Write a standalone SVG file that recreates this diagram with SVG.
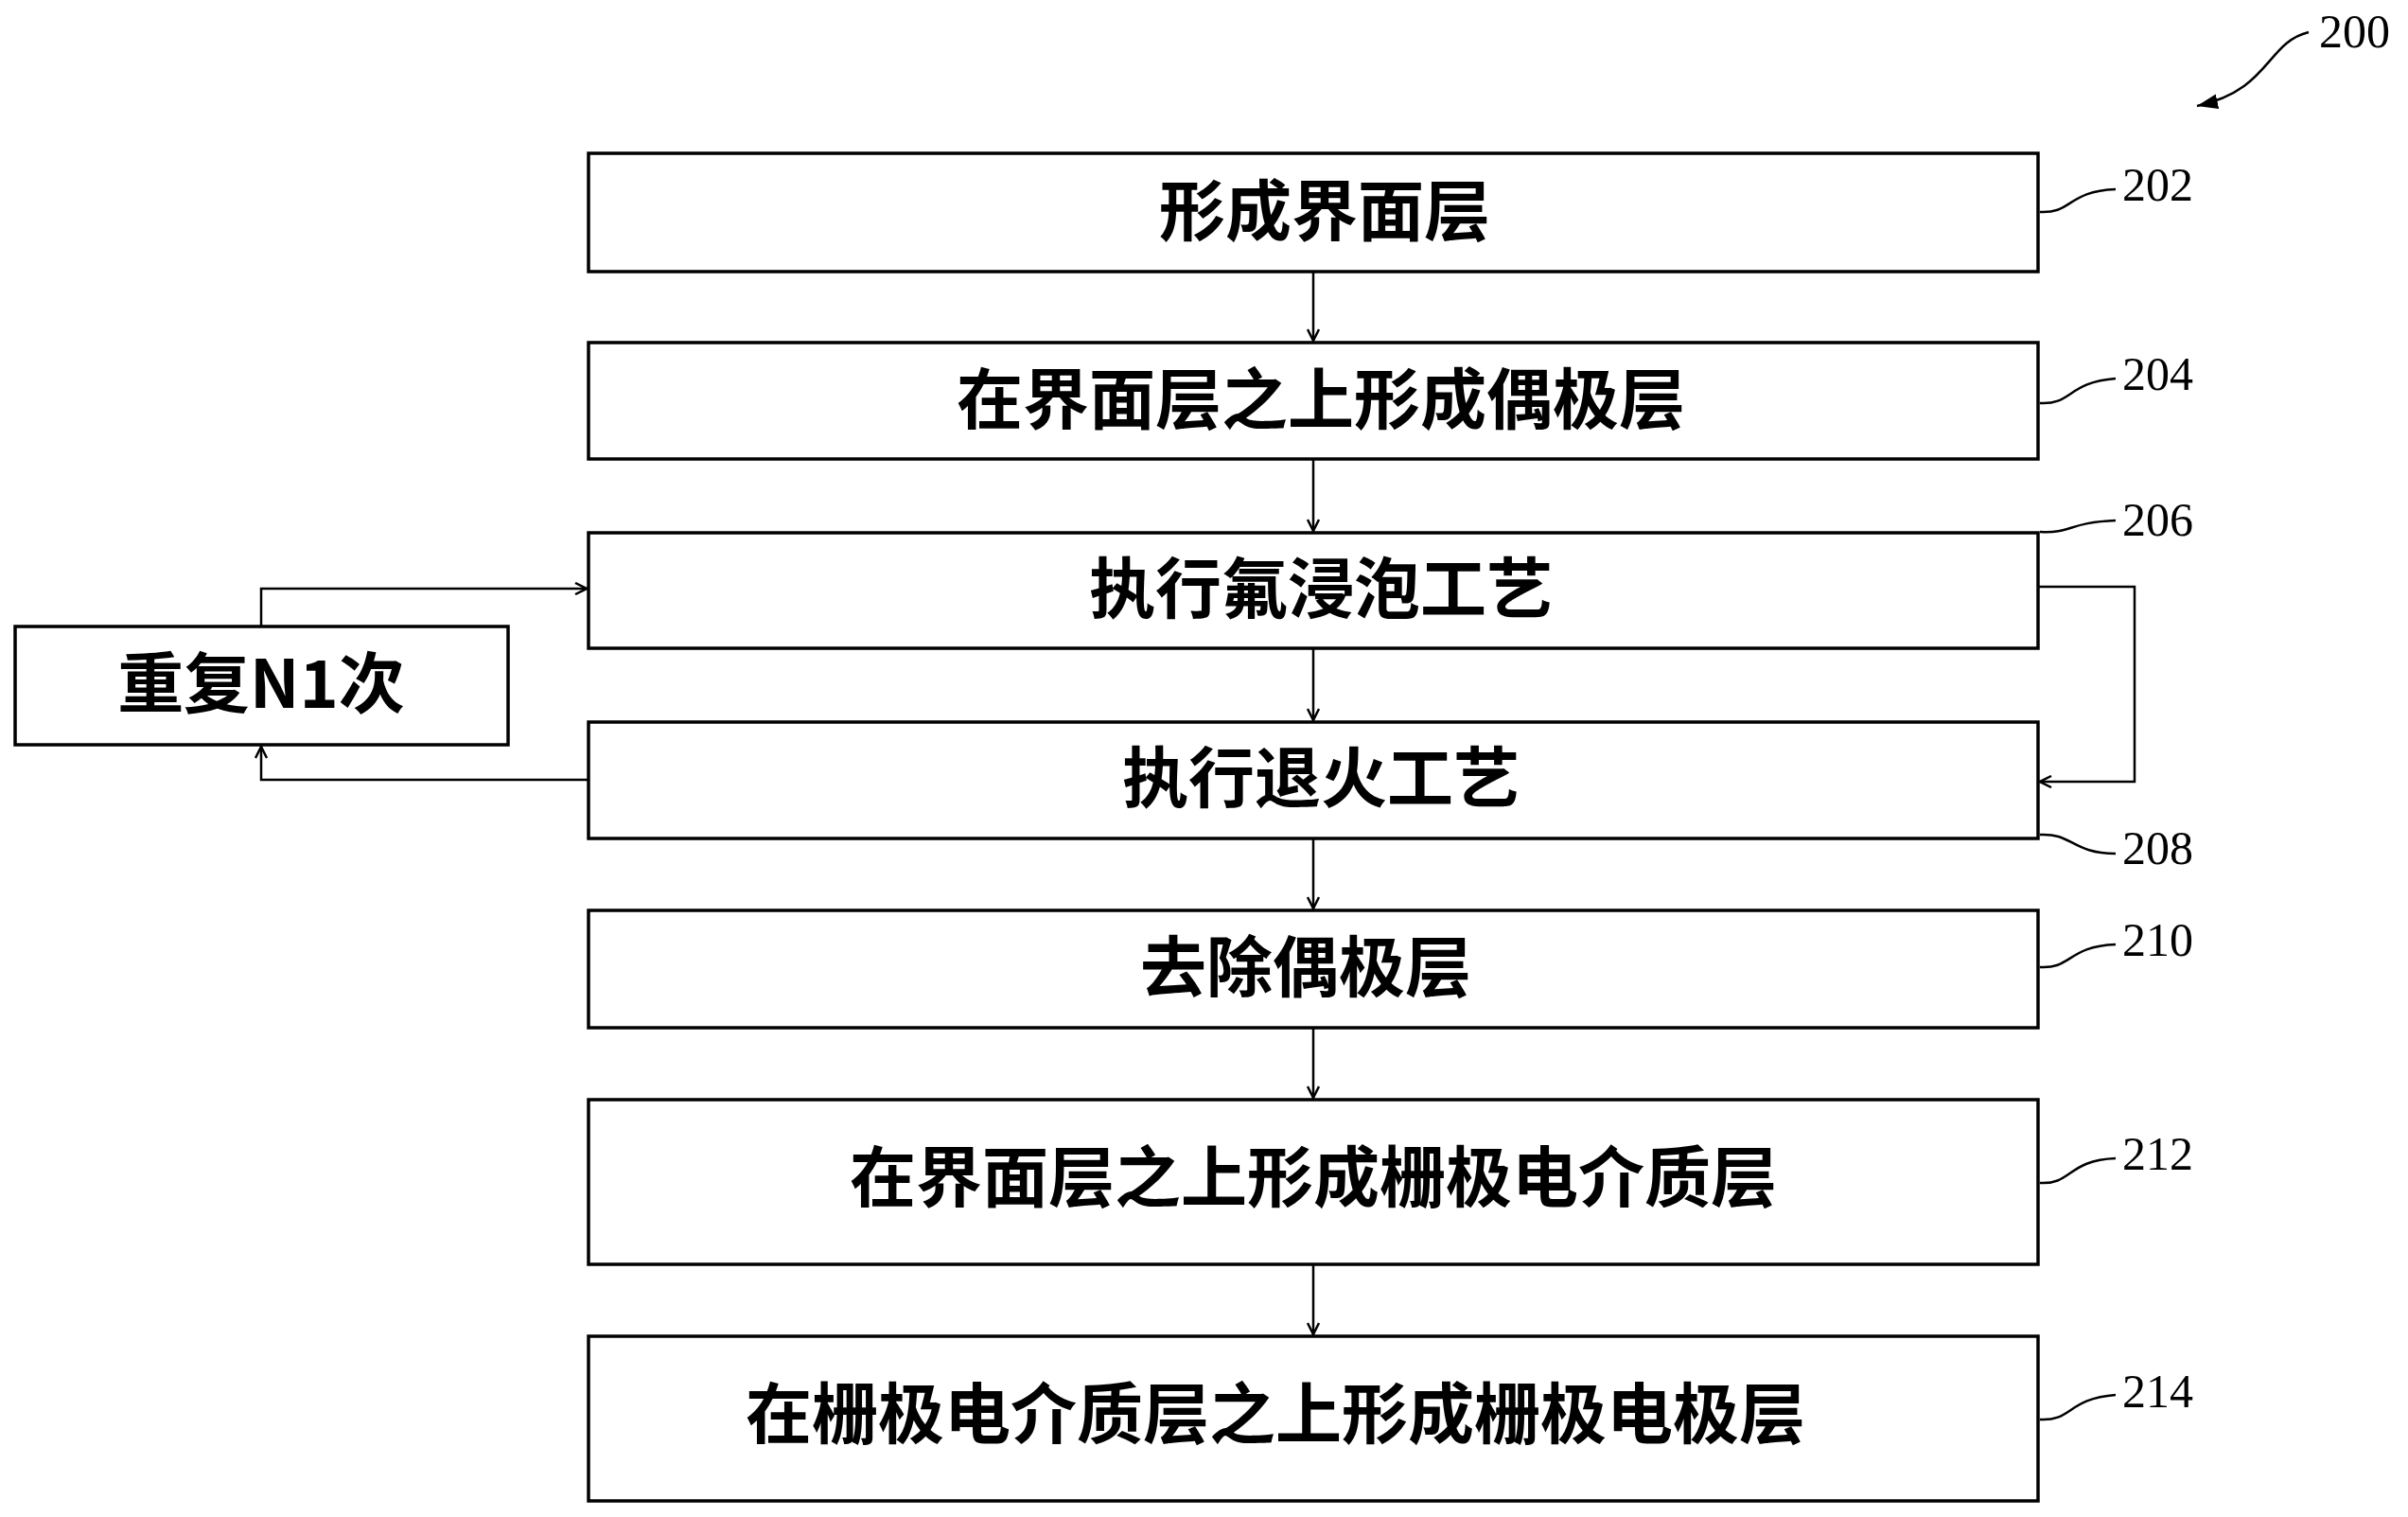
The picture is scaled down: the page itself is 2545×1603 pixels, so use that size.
<svg xmlns="http://www.w3.org/2000/svg" width="2545" height="1603" viewBox="0 0 2545 1603">
<style>
.b{fill:#fff;stroke:#000;stroke-width:3.5}
.t{font-family:"Noto Sans CJK SC",sans-serif;font-weight:700;font-size:70px;text-anchor:middle;fill:#000}
.n{font-family:"Liberation Serif",serif;font-size:50px;fill:#000}
.c{fill:none;stroke:#000;stroke-width:2.5}
</style>
<defs><marker id="a" markerWidth="14" markerHeight="14" refX="13" refY="7" orient="auto" markerUnits="userSpaceOnUse"><path d="M1,1 L13,7 L1,13" fill="none" stroke="#000" stroke-width="2.5"/></marker>
<marker id="f" markerWidth="24" markerHeight="20" refX="22" refY="10" orient="auto" markerUnits="userSpaceOnUse"><path d="M0,2 L22,10 L0,18 Z" fill="#000"/></marker></defs>
<g id="n202"><rect class="b" x="622" y="162" width="1532" height="125"/><text class="t" x="1400" y="249">形成界面层</text></g>
<g id="n204"><rect class="b" x="622" y="362" width="1532" height="123"/><text class="t" x="1396" y="448">在界面层之上形成偶极层</text></g>
<g id="n206"><rect class="b" x="622" y="563" width="1532" height="122"/><text class="t" x="1396" y="648">执行氟浸泡工艺</text></g>
<g id="n208"><rect class="b" x="622" y="763" width="1532" height="123"/><text class="t" x="1396" y="848">执行退火工艺</text></g>
<g id="n210"><rect class="b" x="622" y="962" width="1532" height="124"/><text class="t" x="1380" y="1048">去除偶极层</text></g>
<g id="n212"><rect class="b" x="622" y="1162" width="1532" height="174"/><text class="t" x="1388" y="1270">在界面层之上形成栅极电介质层</text></g>
<g id="n214"><rect class="b" x="622" y="1412" width="1532" height="174"/><text class="t" x="1348" y="1520">在栅极电介质层之上形成栅极电极层</text></g>
<g id="rep"><rect class="b" x="16" y="662" width="521" height="125"/><text class="t" x="276" y="748">重复N1次</text></g>
<g id="labels">
<text class="n" x="2243" y="212">202</text><text class="n" x="2243" y="412">204</text><text class="n" x="2243" y="566">206</text><text class="n" x="2243" y="913">208</text><text class="n" x="2243" y="1010">210</text><text class="n" x="2243" y="1236">212</text><text class="n" x="2243" y="1487">214</text><text class="n" x="2451" y="50">200</text>
</g>
<g id="connectors">
<path class="c" d="M1388 287V360" marker-end="url(#a)"/>
<path class="c" d="M1388 485V561" marker-end="url(#a)"/>
<path class="c" d="M1388 685V761" marker-end="url(#a)"/>
<path class="c" d="M1388 886V960" marker-end="url(#a)"/>
<path class="c" d="M1388 1086V1160" marker-end="url(#a)"/>
<path class="c" d="M1388 1336V1410" marker-end="url(#a)"/>
<path class="c" d="M276 662V622H620" marker-end="url(#a)"/>
<path class="c" d="M622 824H276V789" marker-end="url(#a)"/>
<path class="c" d="M2154 620H2256V826H2156" marker-end="url(#a)"/>
<path class="c" d="M2156 224C2190 226 2185 202 2236 200"/>
<path class="c" d="M2156 426C2190 428 2185 404 2236 400"/>
<path class="c" d="M2156 562C2190 564 2185 552 2236 550"/>
<path class="c" d="M2156 882C2190 880 2190 902 2236 902"/>
<path class="c" d="M2156 1022C2190 1024 2185 1000 2236 998"/>
<path class="c" d="M2156 1250C2190 1252 2185 1226 2236 1224"/>
<path class="c" d="M2156 1500C2190 1502 2185 1478 2236 1474"/>
<path class="c" d="M2440 34C2395 45 2400 95 2322 112" marker-end="url(#f)"/>
</g>
</svg>
